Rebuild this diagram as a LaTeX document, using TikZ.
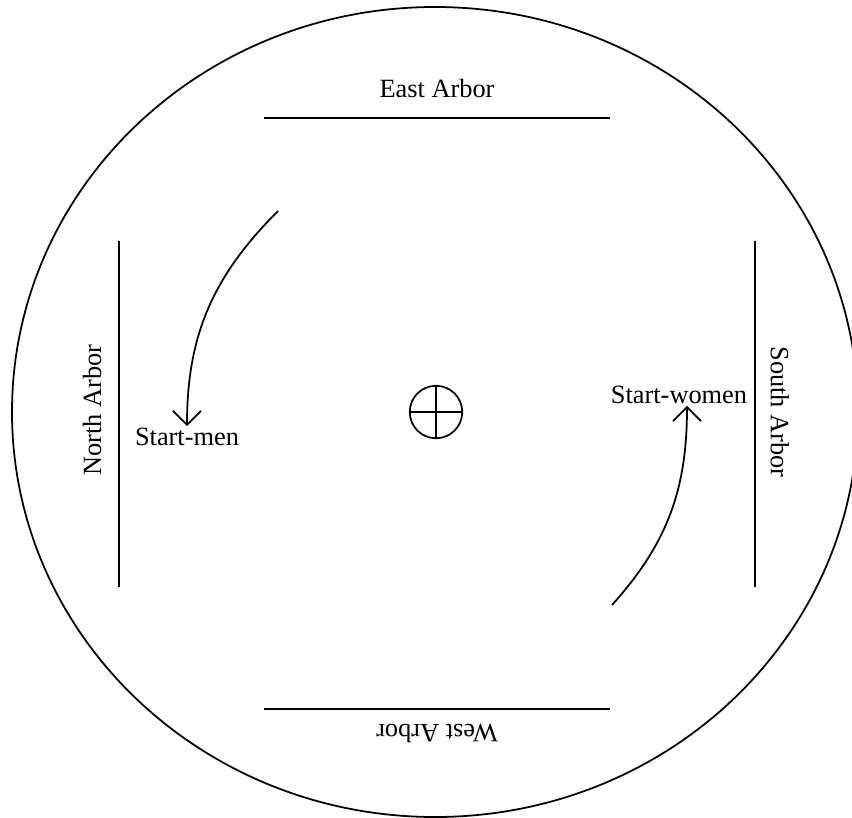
\documentclass[tikz,border=0pt]{standalone}
\usepackage{fontspec}
\setmainfont{Liberation Serif}
\usepackage{tikz}
\usetikzlibrary{arrows.meta,positioning,calc}
\tikzset{
  arbor/.style={line width=1.3pt},
  lbl/.style={font=\fontsize{15}{18}\selectfont, inner sep=1pt},
  walk/.style={-{Straight Barb[length=2.8mm, width=5.6mm]}, line width=1pt},
}
\begin{document}
\begin{tikzpicture}
  \useasboundingbox (0,0) rectangle (17.04,-16.34);
  % outer ring
  \draw[line width=1pt] (8.7,-8.24) ellipse [x radius=8.46, y radius=8.1];
  % arbors
  \coordinate (e1) at (5.28,-2.36);  \coordinate (e2) at (12.2,-2.36);
  \coordinate (w1) at (5.28,-14.18); \coordinate (w2) at (12.2,-14.18);
  \coordinate (n1) at (2.38,-4.82);  \coordinate (n2) at (2.38,-11.74);
  \coordinate (s1) at (15.1,-4.82);  \coordinate (s2) at (15.1,-11.74);
  \draw[arbor] (e1) -- (e2);
  \draw[arbor] (w1) -- (w2);
  \draw[arbor] (n1) -- (n2);
  \draw[arbor] (s1) -- (s2);
  \node[lbl] (east) at (8.74,-1.76) {East Arbor};
  \node[lbl, rotate=180] (west) at (8.74,-14.66) {West Arbor};
  \node[lbl, rotate=90] (north) at (1.84,-8.2) {North Arbor};
  \node[lbl, rotate=-90] (south) at (15.6,-8.24) {South Arbor};
  % centre fire
  \node[circle, draw, line width=1pt, minimum size=1.05cm, inner sep=0pt] (fire) at (8.72,-8.24) {};
  \draw[line width=1pt] (fire.north) -- (fire.south) (fire.west) -- (fire.east);
  % starting points
  \node[lbl] (men) at (3.74,-8.74) {Start-men};
  \node[lbl] (women) at (13.58,-7.9) {Start-women};
  \coordinate (mstart) at (5.56,-4.22);
  \coordinate (wstart) at (12.24,-12.1);
  \draw[walk] (mstart) to[out=225, in=90] (men.north);
  \draw[walk] (wstart) to[out=48, in=-90] ([xshift=0.16cm]women.south);
\end{tikzpicture}
\end{document}
